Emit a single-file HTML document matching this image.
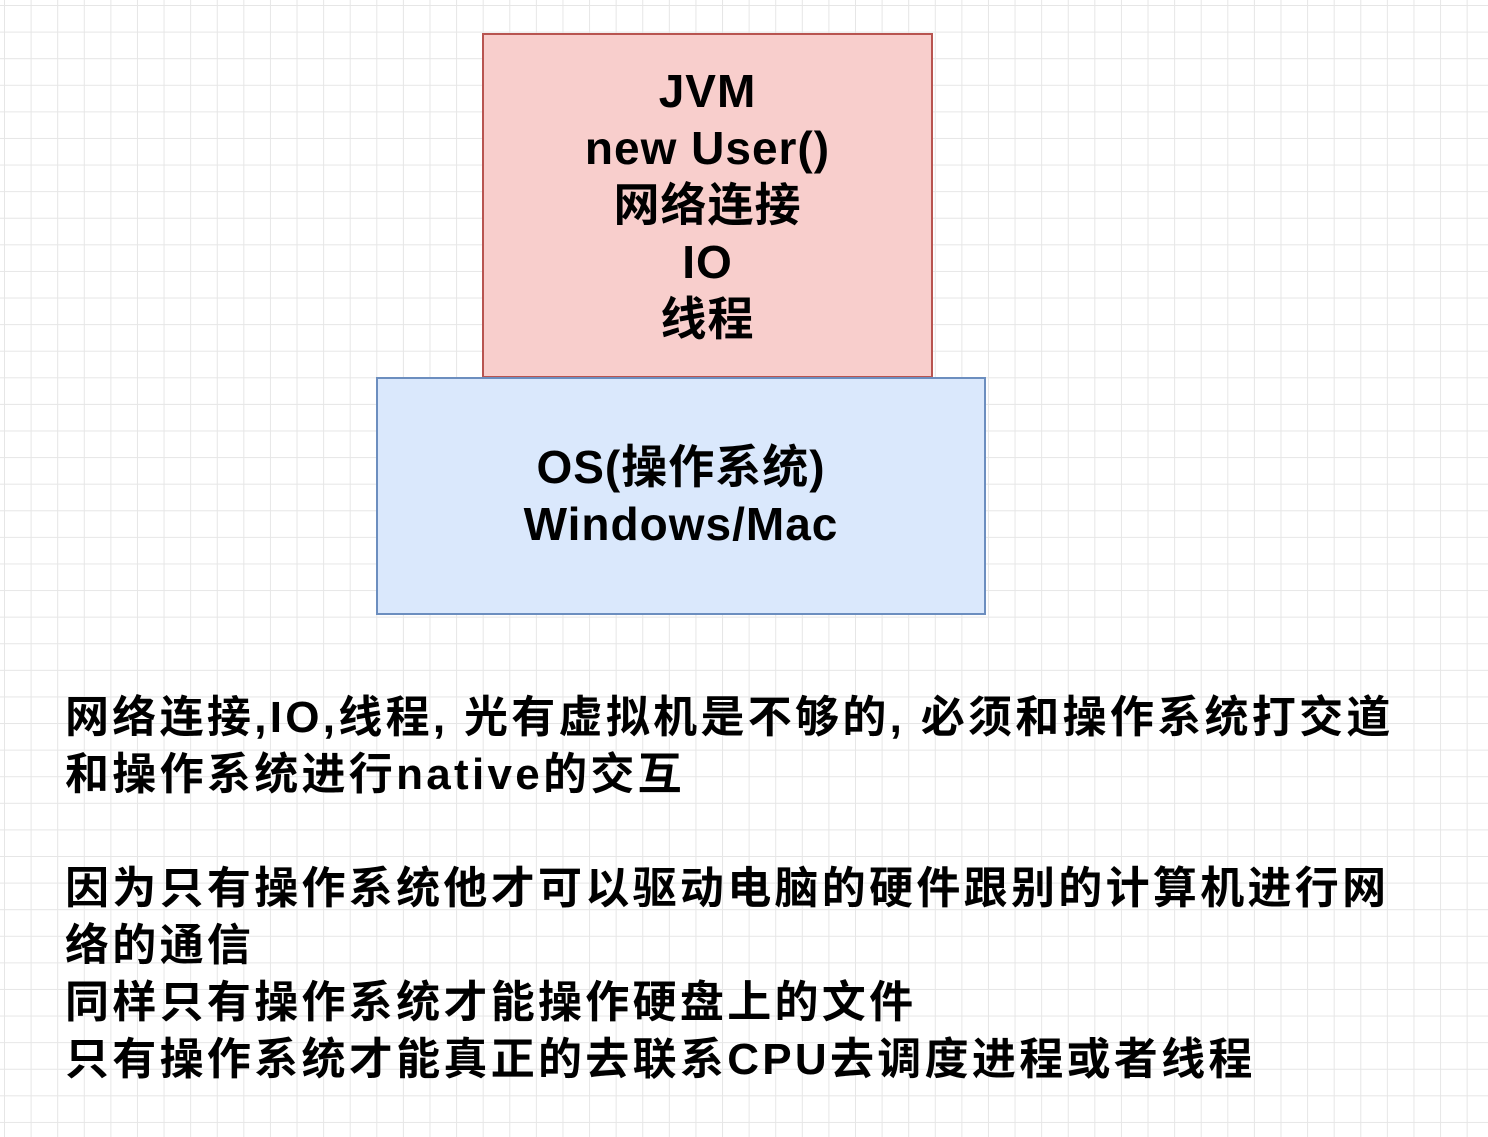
<!DOCTYPE html>
<html><head><meta charset="utf-8"><style>
html,body{margin:0;padding:0}
body{width:1488px;height:1137px;position:relative;overflow:hidden;background-color:#fff;
background-image:linear-gradient(to right,#e6e6e6 1px,transparent 1px),linear-gradient(to bottom,#e6e6e6 1px,transparent 1px);
background-size:26.6px 26.6px;background-position:4px 5px;
font-family:"Liberation Sans","Noto Sans CJK SC",sans-serif;font-weight:bold;color:#000}
.box{position:absolute;box-sizing:border-box;display:flex;flex-direction:column;align-items:center;justify-content:center;text-align:center;font-size:46px;line-height:57px;letter-spacing:1px}
#jvm{left:482px;top:33px;width:451px;height:345px;background:#f8cecc;border:2px solid #b85450}
#os{left:376px;top:377px;width:610px;height:238px;background:#dae8fc;border:2px solid #6c8ebf}
.t{position:absolute;left:65px;font-size:44px;line-height:57px;white-space:nowrap;letter-spacing:3.3px}
</style></head><body>
<div class="box" id="jvm"><div>JVM</div><div>new User()</div><div>网络连接</div><div>IO</div><div>线程</div></div>
<div class="box" id="os"><div>OS(操作系统)</div><div>Windows/Mac</div></div>
<div class="t" style="top:689px">网络连接,IO,线程, 光有虚拟机是不够的, 必须和操作系统打交道<br>和操作系统进行native的交互</div>
<div class="t" style="top:860px">因为只有操作系统他才可以驱动电脑的硬件跟别的计算机进行网<br>络的通信<br>同样只有操作系统才能操作硬盘上的文件<br>只有操作系统才能真正的去联系CPU去调度进程或者线程</div>
</body></html>
